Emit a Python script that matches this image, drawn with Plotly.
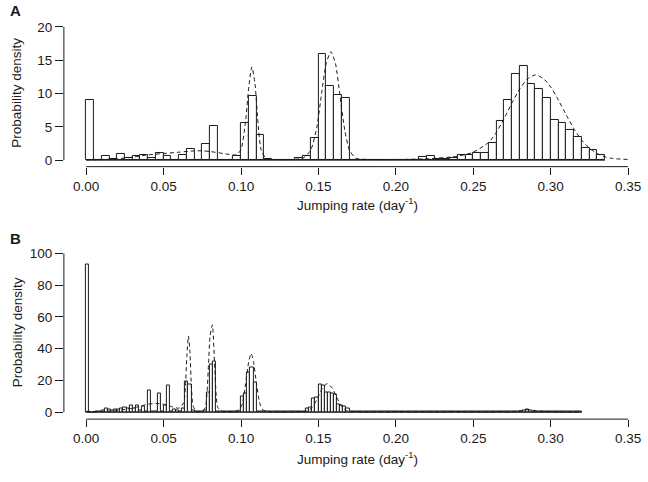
import plotly.graph_objects as go

W, H = 648, 482
FONT = "Liberation Sans, Arial, Helvetica, sans-serif"
INK = "#1a1a1a"

# ---------------- data ----------------
x_tick_vals = [0.00, 0.05, 0.10, 0.15, 0.20, 0.25, 0.30, 0.35]
x_tick_text = ["0.00", "0.05", "0.10", "0.15", "0.20", "0.25", "0.30", "0.35"]
a_y_ticks = [0, 5, 10, 15, 20]
b_y_ticks = [0, 20, 40, 60, 80, 100]

# Panel A histogram (bin width 0.005, bins start at 0)
a_bin_width = 0.005
a_density = [
    9.0, 0.0, 0.6, 0.2, 1.0, 0.3, 0.6, 0.8, 0.4, 1.1,      # 0.000-0.045
    0.7, 0.0, 0.8, 1.7, 0.0, 2.4, 5.2, 0.0, 0.0, 0.7,      # 0.050-0.095
    5.6, 9.7, 3.8, 0.15, 0.0, 0.0, 0.0, 0.4, 0.7, 3.4,     # 0.100-0.145
    16.0, 11.2, 9.8, 9.3, 0.1, 0.1, 0.1, 0.0, 0.0, 0.1,    # 0.150-0.195
    0.1, 0.1, 0.1, 0.45, 0.7, 0.25, 0.25, 0.35, 0.85, 0.85,  # 0.200-0.245
    1.05, 1.05, 2.65, 5.9, 9.1, 12.9, 14.1, 11.4, 10.7, 9.3,  # 0.250-0.295
    6.1, 5.6, 4.5, 3.5, 1.9, 1.6, 0.85,                    # 0.300-0.330
]

# Panel A fitted density (dashed)
a_fit_x = [0.000, 0.010, 0.020, 0.030, 0.040, 0.050, 0.060, 0.070, 0.075, 0.080,
           0.090, 0.097, 0.100, 0.103, 0.105, 0.107, 0.109, 0.111, 0.113, 0.116,
           0.120, 0.130, 0.140, 0.145, 0.149, 0.152, 0.155, 0.158, 0.161, 0.164,
           0.167, 0.170, 0.174, 0.180, 0.200, 0.220, 0.240, 0.250, 0.260, 0.265,
           0.270, 0.275, 0.280, 0.285, 0.290, 0.295, 0.300, 0.305, 0.310, 0.315,
           0.320, 0.325, 0.330, 0.335, 0.340, 0.350]
a_fit_y = [0.05, 0.1, 0.2, 0.45, 0.8, 1.0, 1.2, 1.4, 1.4, 1.3,
           0.95, 0.8, 1.6, 6.0, 11.0, 14.0, 11.5, 5.5, 1.5, 0.3,
           0.12, 0.08, 0.3, 1.5, 5.0, 10.0, 14.5, 16.3, 14.5, 9.5,
           4.5, 1.5, 0.3, 0.12, 0.1, 0.2, 0.6, 1.2, 2.7, 4.2,
           6.3, 8.6, 10.7, 12.2, 12.8, 12.3, 11.0, 9.0, 6.8, 4.7,
           3.0, 1.8, 1.0, 0.5, 0.25, 0.1]

# Panel B histogram (bin width 0.002, bins start at 0)
b_bin_width = 0.002
b_density = [
    93.0, 0.0, 0.0, 0.3, 0.5, 1.0, 2.0, 1.5, 1.2, 1.5,      # 0.000-0.018
    1.5, 2.5, 3.0, 2.0, 4.0, 2.5, 4.5, 1.0, 3.5, 0.5,       # 0.020-0.038
    13.5, 0.5, 0.3, 11.5, 0.5, 4.0, 17.0, 0.5, 1.5, 0.8,    # 0.040-0.058
    0.5, 2.0, 19.5, 17.5, 1.0, 0.3, 0.3, 0.5, 0.8, 12.5,    # 0.060-0.078
    30.0, 32.0, 0.5, 0.2, 0.2, 0.2, 0.2, 0.2, 0.2, 0.5,     # 0.080-0.098
    10.0, 12.0, 25.0, 28.0, 18.5, 0.5, 0.2, 0.2, 0.2, 0.2,  # 0.100-0.118
    0.2, 0.2, 0.2, 0.2, 0.2, 0.2, 0.2, 0.2, 0.2, 0.2,       # 0.120-0.138
    0.3, 2.0, 3.0, 8.5, 9.5, 17.5, 16.5, 12.5, 12.5, 12.0,  # 0.140-0.158
    11.0, 5.0, 4.4, 3.5, 2.5, 0.5, 0.2, 0.2, 0.2, 0.2,      # 0.160-0.178
    0.2, 0.2, 0.2, 0.2, 0.2, 0.2, 0.2, 0.2, 0.2, 0.2,       # 0.180-0.198
    0.2, 0.2, 0.2, 0.2, 0.2, 0.2, 0.2, 0.2, 0.2, 0.2,       # 0.200-0.218
    0.2, 0.2, 0.2, 0.2, 0.2, 0.2, 0.2, 0.2, 0.2, 0.2,       # 0.220-0.238
    0.2, 0.2, 0.2, 0.2, 0.2, 0.2, 0.2, 0.2, 0.2, 0.2,       # 0.240-0.258
    0.2, 0.2, 0.2, 0.2, 0.2, 0.2, 0.2, 0.2, 0.2, 0.2,       # 0.260-0.278
    0.5, 1.0, 1.5, 1.2, 0.5, 0.2, 0.2, 0.2, 0.2, 0.2,       # 0.280-0.298
    0.2, 0.2, 0.2, 0.2, 0.2, 0.2, 0.2, 0.2, 0.2, 0.2,       # 0.300-0.318
]

# Panel B fitted density (dashed)
b_fit_x = [0.000, 0.010, 0.020, 0.030, 0.040, 0.045, 0.050, 0.055, 0.060, 0.063,
           0.064, 0.065, 0.066, 0.067, 0.068, 0.069, 0.071, 0.075, 0.077, 0.078,
           0.079, 0.080, 0.0815, 0.083, 0.084, 0.085, 0.088, 0.095, 0.099, 0.101,
           0.103, 0.105, 0.1065, 0.108, 0.110, 0.112, 0.114, 0.118, 0.140, 0.143,
           0.146, 0.149, 0.152, 0.1555, 0.159, 0.162, 0.165, 0.168, 0.172, 0.200,
           0.250, 0.275, 0.282, 0.286, 0.290, 0.297, 0.320]
b_fit_y = [0.5, 0.5, 1.0, 2.5, 5.0, 5.5, 5.0, 3.5, 2.5, 6.0,
           15.0, 35.0, 48.0, 38.0, 15.0, 4.0, 0.5, 0.5, 3.0, 12.0,
           30.0, 48.0, 55.0, 28.0, 10.0, 3.0, 0.5, 0.3, 1.5, 6.0,
           18.0, 32.0, 37.0, 32.0, 18.0, 6.0, 1.5, 0.3, 0.3, 0.8,
           3.0, 8.0, 14.0, 18.0, 15.0, 9.0, 3.5, 1.0, 0.3, 0.2,
           0.2, 0.3, 1.2, 1.6, 1.0, 0.3, 0.2]

a_bin_left = [i * a_bin_width for i in range(len(a_density))]
b_bin_left = [i * b_bin_width for i in range(len(b_density))]

# ---------------- layout geometry (pixels) ----------------
PX_X0, PX_X35 = 87.0, 634.0          # pixel of x = 0 and x = 0.35
DOM_L, DOM_R = 64.5, 641.0
xs = (PX_X35 - PX_X0) / 0.35
x_range = [(DOM_L - PX_X0) / xs, (DOM_R - PX_X0) / xs]
x_domain = [DOM_L / W, DOM_R / W]

def y_setup(px_zero, px_top_val, top_val, px_axis, px_dom_top):
    s = (px_zero - px_top_val) / top_val
    rng = [-(px_axis - px_zero) / s, (px_zero - px_dom_top) / s]
    dom = [1 - px_axis / H, 1 - px_dom_top / H]
    return rng, dom

a_yrange, a_ydom = y_setup(160.5, 27.0, 20, 167.0, 15.0)
b_yrange, b_ydom = y_setup(413.0, 254.0, 100, 420.0, 245.0)

fig = go.Figure()

def add_panel(bin_left, width, dens, fx, fy, xa, ya):
    fig.add_trace(go.Bar(
        x=bin_left, y=dens, width=width, offset=0,
        marker=dict(color="white", line=dict(color=INK, width=1)),
        xaxis=xa, yaxis=ya, showlegend=False, hoverinfo="skip"))
    fig.add_trace(go.Scatter(
        x=[bin_left[0], bin_left[-1] + width], y=[0, 0], mode="lines",
        line=dict(color=INK, width=1), xaxis=xa, yaxis=ya,
        showlegend=False, hoverinfo="skip"))
    fig.add_trace(go.Scatter(
        x=fx, y=fy, mode="lines",
        line=dict(color=INK, width=1, dash="4px,3px", shape="spline", smoothing=0.6),
        xaxis=xa, yaxis=ya, showlegend=False, hoverinfo="skip"))

add_panel(a_bin_left, a_bin_width, a_density, a_fit_x, a_fit_y, "x", "y")
add_panel(b_bin_left, b_bin_width, b_density, b_fit_x, b_fit_y, "x2", "y2")

tickfont = dict(family=FONT, size=13.5, color=INK)
xax = dict(range=x_range, domain=x_domain, showgrid=False, zeroline=False, showline=False,
           ticks="outside", ticklen=7, tickwidth=1, tickcolor=INK,
           tickvals=x_tick_vals, ticktext=x_tick_text, tickfont=tickfont,
           fixedrange=True)

def yax(rng, dom, tv, anchor):
    return dict(range=rng, domain=dom, showgrid=False, zeroline=False, showline=False,
                ticks="outside", ticklen=8, tickwidth=1, tickcolor=INK,
                tickvals=tv, ticktext=[str(v) for v in tv], tickfont=tickfont,
                anchor=anchor, fixedrange=True)

fig.update_layout(
    width=W, height=H, margin=dict(l=0, r=0, t=0, b=0),
    paper_bgcolor="white", plot_bgcolor="white",
    bargap=0,
    xaxis=dict(xax, anchor="y"),
    yaxis=yax(a_yrange, a_ydom, a_y_ticks, "x"),
    xaxis2=dict(xax, anchor="y2"),
    yaxis2=yax(b_yrange, b_ydom, b_y_ticks, "x2"),
)

shapes = []
for xa, ya, ytop in [("x", "y", a_y_ticks[-1]), ("x2", "y2", b_y_ticks[-1])]:
    shapes.append(dict(type="line", xref=xa, yref=ya + " domain", x0=x_tick_vals[0], x1=x_tick_vals[-1],
                       y0=0, y1=0, line=dict(color=INK, width=1)))
    shapes.append(dict(type="line", xref=xa + " domain", yref=ya, x0=0, x1=0,
                       y0=0, y1=ytop, line=dict(color=INK, width=1)))
fig.update_layout(shapes=shapes)

xmid = (x_tick_vals[0] + x_tick_vals[-1]) / 2
annots = []
for letter, ypx_letter, ycen, ytitle in [("A", 11, 93, 204), ("B", 239, 333, 459)]:
    annots.append(dict(text="<b>%s</b>" % letter, x=16 / W, y=1 - ypx_letter / H,
                       xref="paper", yref="paper", xanchor="center", yanchor="middle",
                       showarrow=False, font=dict(family=FONT, size=15, color=INK)))
    annots.append(dict(text="Probability density", x=17 / W, y=1 - ycen / H,
                       xref="paper", yref="paper", xanchor="center", yanchor="middle",
                       textangle=-90, showarrow=False, font=dict(family=FONT, size=13.5, color=INK)))
    annots.append(dict(text="Jumping rate (day<sup>-1</sup>)", x=xmid, y=1 - ytitle / H,
                       xref="x", yref="paper", xanchor="center", yanchor="middle", showarrow=False,
                       font=dict(family=FONT, size=13.5, color=INK)))
fig.update_layout(annotations=annots)

fig.write_html("out.html")
